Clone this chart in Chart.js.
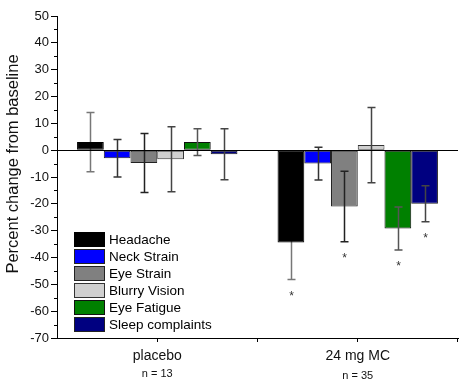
<!DOCTYPE html>
<html>
<head>
<meta charset="utf-8">
<script src="https://cdn.jsdelivr.net/npm/chart.js@4.4.1/dist/chart.umd.min.js"></script>
<style>
    body { margin: 0; background: #fff; }
    #chart { display: block; }
</style>
</head>
<body>
<canvas id="chart" width="462" height="382"></canvas>
<script>
// groups on the x axis
const groups = ['placebo', '24 mg MC'];
const groupN = ['n = 13', 'n = 35'];

// mean percent change per symptom (placebo, 24 mg MC)
const headache = [3, -34.4];
const neckStrain = [-3, -5];
const eyeStrain = [-4.8, -21];
const blurryVision = [-3.4, 1.9];
const eyeFatigue = [3, -29.2];
const sleepComplaints = [-1.5, -20];

// error bar half-lengths
const headacheErr = [11, 13.8];
const neckStrainErr = [7, 6.1];
const eyeStrainErr = [11, 13.1];
const blurryVisionErr = [12.1, 14];
const eyeFatigueErr = [5, 8];
const sleepComplaintsErr = [9.5, 6.7];

// significance markers
const headacheStar = [false, true];
const neckStrainStar = [false, false];
const eyeStrainStar = [false, true];
const blurryVisionStar = [false, false];
const eyeFatigueStar = [false, true];
const sleepComplaintsStar = [false, true];

const yTicks = [-70, -60, -50, -40, -30, -20, -10, 0, 10, 20, 30, 40, 50];
const yTitle = 'Percent change from baseline';

const series = [
    { label: 'Headache', data: headache, err: headacheErr, star: headacheStar, color: '#000000', errColor: '#777777', border: '#000000', behind: true },
    { label: 'Neck Strain', data: neckStrain, err: neckStrainErr, star: neckStrainStar, color: '#0000ff', errColor: '#333333', border: '#222222' },
    { label: 'Eye Strain', data: eyeStrain, err: eyeStrainErr, star: eyeStrainStar, color: '#808080', errColor: '#222222', border: '#222222' },
    { label: 'Blurry Vision', data: blurryVision, err: blurryVisionErr, star: blurryVisionStar, color: '#d0d0d0', errColor: '#444444', border: '#333333' },
    { label: 'Eye Fatigue', data: eyeFatigue, err: eyeFatigueErr, star: eyeFatigueStar, color: '#008000', errColor: '#555555', border: '#111111' },
    { label: 'Sleep complaints', data: sleepComplaints, err: sleepComplaintsErr, star: sleepComplaintsStar, color: '#000080', errColor: '#444444', border: '#222222' }
];

const FONT = 'Arial, "Liberation Sans", sans-serif';

function drawErrors(chart, behind) {
    const ctx = chart.ctx;
    const y = chart.scales.y;
    series.forEach((s, i) => {
        if (!!s.behind !== behind) return;
        const meta = chart.getDatasetMeta(i);
        meta.data.forEach((bar, j) => {
            const cx = Math.round(bar.x) + 0.5;
            const hi = y.getPixelForValue(s.data[j] + s.err[j]);
            const lo = y.getPixelForValue(s.data[j] - s.err[j]);
            ctx.strokeStyle = s.errColor;
            ctx.lineWidth = 1.5;
            ctx.beginPath();
            ctx.moveTo(cx, hi);
            ctx.lineTo(cx, lo);
            ctx.moveTo(cx - 4, hi);
            ctx.lineTo(cx + 4, hi);
            ctx.moveTo(cx - 4, lo);
            ctx.lineTo(cx + 4, lo);
            ctx.stroke();
            if (s.star[j]) {
                ctx.fillStyle = '#333';
                ctx.font = '12px ' + FONT;
                ctx.textAlign = 'center';
                ctx.textBaseline = 'middle';
                ctx.fillText('*', cx, lo + 17);
            }
        });
    });
}

// error bars, stars, zero line, extra ticks, n labels, title and legend
const extrasPlugin = {
    id: 'extras',
    beforeDatasetsDraw(chart) {
        chart.ctx.save();
        drawErrors(chart, true);
        chart.ctx.restore();
    },
    afterDatasetsDraw(chart) {
        const ctx = chart.ctx;
        const y = chart.scales.y;
        const x = chart.scales.x;
        const area = chart.chartArea;
        ctx.save();

        drawErrors(chart, false);

        // zero line
        ctx.strokeStyle = '#000';
        ctx.lineWidth = 1;
        const y0 = Math.round(y.getPixelForValue(0)) + 0.5;
        ctx.beginPath();
        ctx.moveTo(area.left, y0);
        ctx.lineTo(area.right, y0);
        ctx.stroke();

        // minor y ticks
        for (let v = y.min + 5; v < y.max; v += 10) {
            const py = Math.round(y.getPixelForValue(v)) + 0.5;
            ctx.beginPath();
            ctx.moveTo(area.left - 3, py);
            ctx.lineTo(area.left, py);
            ctx.stroke();
        }

        // category boundary ticks on x
        const step = x.getPixelForTick(1) - x.getPixelForTick(0);
        [x.getPixelForTick(0) + step / 2, x.getPixelForTick(1) + step / 2].forEach(px => {
            const rx = Math.round(px) - 0.5;
            ctx.beginPath();
            ctx.moveTo(rx, area.bottom);
            ctx.lineTo(rx, area.bottom + 4);
            ctx.stroke();
        });

        // n = labels
        ctx.fillStyle = '#111';
        ctx.font = '11px ' + FONT;
        ctx.textAlign = 'center';
        ctx.textBaseline = 'middle';
        groupN.forEach((n, j) => {
            ctx.fillText(n, x.getPixelForTick(j), area.bottom + 36 + j * 2);
        });

        // y axis title
        ctx.save();
        ctx.translate(13, 164);
        ctx.rotate(-Math.PI / 2);
        ctx.font = '16.5px ' + FONT;
        ctx.fillStyle = '#111';
        ctx.fillText(yTitle, 0, 0);
        ctx.restore();

        // legend
        const lx = 74, ly = 232, rowH = 17;
        ctx.font = '13.5px ' + FONT;
        ctx.textAlign = 'left';
        series.forEach((s, i) => {
            const top = ly + i * rowH;
            ctx.fillStyle = s.color;
            ctx.fillRect(lx, top, 31, 15);
            ctx.strokeStyle = s.border;
            ctx.lineWidth = 1;
            ctx.strokeRect(lx + 0.5, top + 0.5, 30, 14);
            ctx.fillStyle = '#000';
            ctx.fillText(s.label, lx + 35, top + 8);
        });

        ctx.restore();
    }
};

new Chart(document.getElementById('chart'), {
    type: 'bar',
    data: {
        labels: groups,
        datasets: series.map(s => ({
            label: s.label,
            data: s.data,
            backgroundColor: s.color,
            borderColor: s.border,
            borderWidth: 1,
            borderSkipped: false,
            categoryPercentage: 0.8,
            barPercentage: 1.0
        }))
    },
    options: {
        responsive: false,
        animation: false,
        layout: { padding: { top: 16, right: 4, left: 0, bottom: 0 } },
        plugins: {
            legend: { display: false },
            tooltip: { enabled: false }
        },
        scales: {
            x: {
                offset: true,
                grid: { display: true, drawOnChartArea: false, offset: false, tickLength: 4, color: '#000' },
                border: { display: true, color: '#000', width: 1 },
                ticks: { color: '#111', font: { size: 14, family: FONT }, padding: 6 },
                afterFit(scale) { scale.height = 44; }
            },
            y: {
                min: -70,
                max: 50,
                afterBuildTicks(scale) { scale.ticks = yTicks.map(v => ({ value: v })); },
                grid: { display: true, drawOnChartArea: false, tickLength: 6, color: '#000' },
                border: { display: true, color: '#000', width: 1 },
                ticks: { color: '#111', font: { size: 13, family: FONT }, padding: 2 },
                afterFit(scale) { scale.width = 57; }
            }
        }
    },
    plugins: [extrasPlugin]
});
</script>
</body>
</html>
